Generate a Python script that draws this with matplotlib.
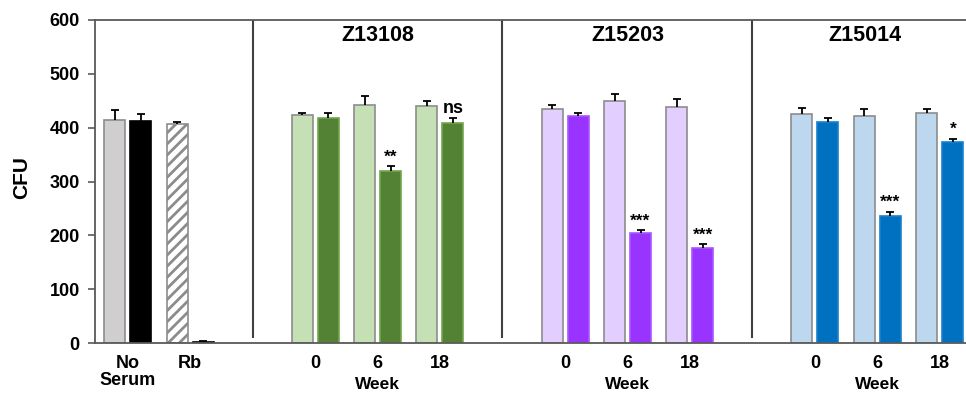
import numpy as np
import matplotlib
matplotlib.use('Agg')
import matplotlib.pyplot as plt

plt.rcParams['font.family'] = ['Liberation Sans', 'DejaVu Sans']
plt.rcParams['font.weight'] = 'bold'
plt.rcParams['hatch.linewidth'] = 2.0

# Controles (sem soro / Rb)
ctrl_labels = ['No\nSerum', 'Rb']
ctrl_light = [415, 407]
ctrl_light_err = [17, 3]
ctrl_dark = [413, 2]
ctrl_dark_err = [12, 1]

# Cepas
strains = ['Z13108', 'Z15203', 'Z15014']
weeks = ['0', '6', '18']
pre_vals = [[423, 443, 441], [435, 450, 439], [425, 422, 427]]
pre_err = [[5, 16, 9], [7, 13, 15], [12, 13, 8]]
post_vals = [[418, 319, 409], [422, 205, 177], [410, 236, 373]]
post_err = [[10, 9, 9], [6, 4, 6], [8, 8, 6]]
signif = [['', '**', 'ns'], ['', '***', '***'], ['', '***', '*']]

light_cols = ['#C5E0B4', '#E2CEFF', '#BDD7EE']
dark_cols = ['#548235', '#9933FF', '#0070C0']
dark_edges = ['#6FA84A', '#A855FF', '#1A80CC']

w = 0.336
off = 0.208
edge_gray = '#8C8C8C'


def upper_err(ax, x, vals, errs):
    # só a barra de erro superior, com traço no topo
    x = np.atleast_1d(x)
    vals = np.atleast_1d(vals)
    errs = np.atleast_1d(errs)
    ax.vlines(x, vals, vals + errs, color='black', lw=1.3, zorder=3)
    ax.plot(x, vals + errs, '_', color='black', ms=6, mew=1.3, zorder=3)


fig = plt.figure(figsize=(9.66, 3.94), dpi=100)
ax = fig.add_axes([95 / 966, 1 - 343 / 394, 1 - 95 / 966, 323 / 394])

# grupo controle
xc = np.array([0, 1])
ax.bar(xc[0] - off, ctrl_light[0], w, color='#D0CECE', edgecolor=edge_gray, lw=1.2)
ax.bar(xc[1] - off, ctrl_light[1], w, color='white', edgecolor=edge_gray, lw=1.2, hatch='///')
ax.bar(xc + off, ctrl_dark, w, color='black', edgecolor='black', lw=1.2)
upper_err(ax, xc - off, ctrl_light, ctrl_light_err)
upper_err(ax, xc + off, ctrl_dark, ctrl_dark_err)

tick_pos = list(xc)
tick_lab = list(ctrl_labels)

for g, name in enumerate(strains):
    start = 3 + 4 * g
    xs = np.arange(3) + start
    ax.bar(xs - off, pre_vals[g], w, color=light_cols[g], edgecolor=edge_gray, lw=1.2)
    ax.bar(xs + off, post_vals[g], w, color=dark_cols[g], edgecolor=dark_edges[g], lw=1.2)
    upper_err(ax, xs - off, pre_vals[g], pre_err[g])
    upper_err(ax, xs + off, post_vals[g], post_err[g])
    for i in range(3):
        lab = signif[g][i]
        if lab:
            ax.text(xs[i] + off, post_vals[g][i] + post_err[g][i] + (1 if lab == 'ns' else 4), lab,
                    ha='center', va='bottom', fontsize=13 if lab == 'ns' else 12.5)
    tick_pos += list(xs)
    tick_lab += weeks
    # separador
    ax.vlines(start - 1, 9, 600, color='#404040', lw=1.5)
    ax.text(start + 1 if g < 2 else start + 0.8, 571, name, ha='center', va='center', fontsize=15.5)
    ax.text(start + 1, -0.127, 'Week', transform=ax.get_xaxis_transform(),
            ha='center', va='center', fontsize=12.5)

ax.set_xlim(-0.52, 13.416)
ax.set_ylim(0, 600)
ax.set_yticks(range(0, 601, 100))
ax.set_xticks(tick_pos)
ax.set_xticklabels(tick_lab, fontsize=13, linespacing=0.95)
ax.tick_params(axis='x', length=0, pad=9)
ax.tick_params(axis='y', direction='out', length=5, width=1.2, color='#595959', labelsize=13, pad=6)

for s in ['left', 'top', 'bottom']:
    ax.spines[s].set_color('#595959')
    ax.spines[s].set_linewidth(1.3)
ax.spines['right'].set_visible(False)

fig.text(22 / 966, 1 - 178 / 394, 'CFU', rotation=90, ha='center', va='center', fontsize=15)

fig.savefig('out.png', dpi=100)
